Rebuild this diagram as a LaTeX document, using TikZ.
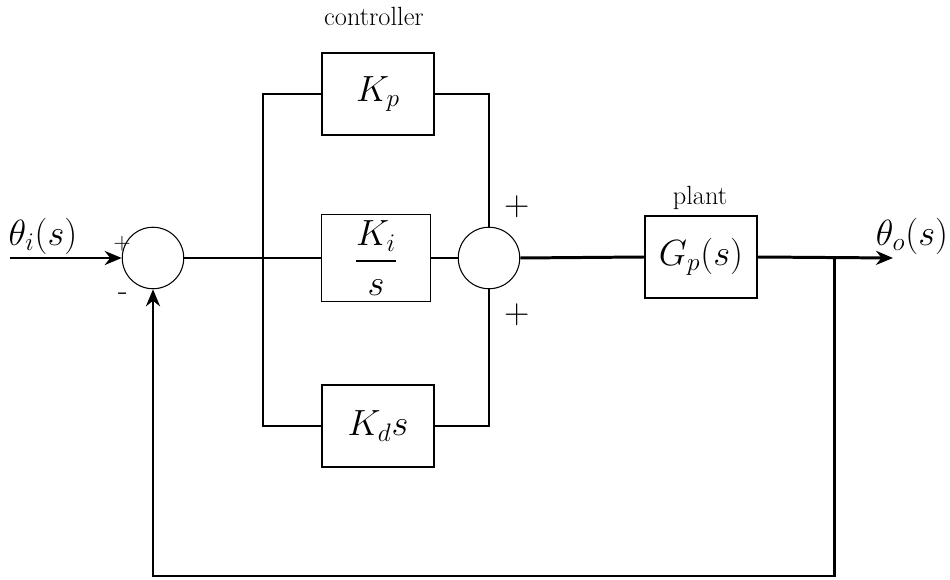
\documentclass[tikz,border=0pt]{standalone}
\usepackage{amsmath}
\usetikzlibrary{arrows.meta}

\begin{document}
\begin{tikzpicture}[
  x=0.02cm, y=-0.02cm,
  wire/.style={line width=1.7pt},
  sig/.style={wire,-{Stealth[length=3.4mm,width=2.8mm]}},
  sumnode/.style={circle,draw,line width=0.6pt,minimum size=1.23cm,inner sep=0pt},
  block/.style={rectangle,draw,line width=0.6pt,minimum width=2.24cm,minimum height=1.64cm,font=\fontsize{20}{24}\selectfont},
  lbl/.style={font=\rmfamily\fontsize{15}{18}\selectfont},
  sign/.style={font=\rmfamily\fontsize{#1}{20}\selectfont}]
\useasboundingbox (0,0) rectangle (950,580);
% blocks
\node[sumnode] (sum1) at (153,258) {};
\node[sumnode] (sum2) at (489,258) {};
\node[block] (kp) at (378,94) {$K_p$};
\node[block,minimum width=2.18cm,minimum height=1.58cm] (ki) at (376,258) {$\dfrac{K_i}{s}$};
\node[block] (kd) at (378,426) {$K_d s$};
\node[block] (plant) at (701,257) {$G_p(s)$};
% points on the wires
\coordinate (in) at (10,258);
\coordinate (split) at (263,258);
\coordinate (out) at (834,258);
\coordinate (end) at (893,258);
\coordinate (fb) at (834,576);
% texts
\node[lbl] (ctrl) at (374,16) {controller};
\node[lbl] (plantlbl) at (700,198) {plant};
\node[font=\fontsize{20}{24}\selectfont] (thetai) at (43,236) {$\theta_i(s)$};
\node[font=\fontsize{20}{24}\selectfont] (thetao) at (912,236) {$\theta_o(s)$};
\node[sign=13] (p1) at (122,244) {+};
\node[sign=18] (m1) at (123,297) {-};
\node[sign=20] (p2) at (517,207) {+};
\node[sign=20] (p3) at (517,315) {+};
% wires
\draw[sig] (in) -- (sum1.west);
\draw[wire] (sum1.east) -- (ki.west);
\draw[wire] (split) |- (kp.west);
\draw[wire] (split) |- (kd.west);
\draw[wire] (kp.east) -| (sum2.north);
\draw[wire] (kd.east) -| (sum2.south);
\draw[wire] (ki.east) -- (sum2.west);
\draw[wire] (sum2.east) -- (plant.west);
\draw[sig] (plant.east) -- (end);
\draw[sig] (out) -- (fb) -| (sum1.south);
\end{tikzpicture}
\end{document}
